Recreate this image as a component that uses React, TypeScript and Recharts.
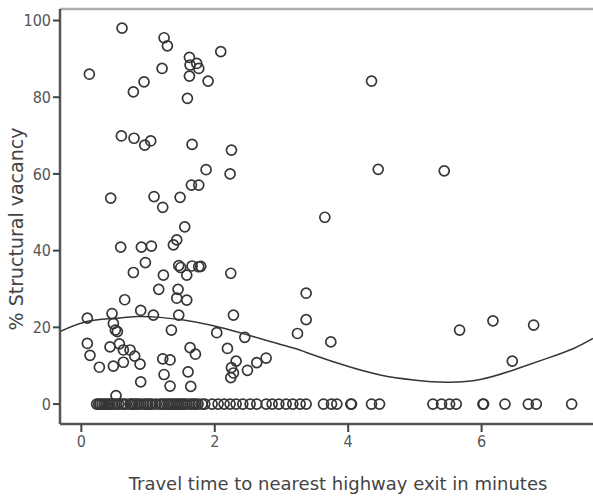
import { ComposedChart, Scatter, Line, XAxis, YAxis, Label } from "recharts"

const xTicks = [0, 2, 4, 6]
const yTicks = [0, 20, 40, 60, 80, 100]

// travel times of the tracts with no structural vacancy
const zeroTimes = [
  0.23, 0.26, 0.28, 0.31, 0.34, 0.37, 0.4, 0.43, 0.46, 0.5, 0.53, 0.56, 0.61, 0.64, 0.67,
  0.73, 0.75, 0.77, 0.8, 0.83, 0.86, 0.89, 0.94, 0.97, 1.0, 1.03,
  1.06, 1.12, 1.18, 1.21, 1.24, 1.28, 1.31, 1.34, 1.37, 1.4, 1.43, 1.46, 1.49, 1.52, 1.55,
  1.58, 1.63, 1.66, 1.69, 1.72, 1.75, 1.81, 1.85,
  1.96, 2.05, 2.14, 2.23, 2.32, 2.42, 2.53, 2.63,
  2.77, 2.86, 2.96, 3.07, 3.17, 3.28, 3.37,
  3.63, 3.75, 3.83, 4.04, 4.05, 4.35, 4.47, 5.27, 5.4, 5.52, 5.62, 6.02, 6.03, 6.35, 6.7,
  6.82, 7.35,
]

// [minutes, % vacancy]
const vacantTracts: [number, number][] = [
  [0.61, 98.0], [0.12, 86.0], [1.24, 95.5], [1.29, 93.4], [1.21, 87.5], [1.62, 90.4],
  [1.63, 88.4], [1.73, 88.8], [1.76, 87.5], [1.62, 85.5], [1.9, 84.2], [2.09, 91.9],
  [1.59, 79.7], [0.78, 81.4], [0.94, 84.0], [4.35, 84.2],
  [0.6, 69.9], [0.79, 69.3], [0.95, 67.5], [1.04, 68.6], [1.66, 67.7], [2.25, 66.2],
  [2.23, 60.0], [1.87, 61.1], [1.65, 57.1], [1.76, 57.1], [4.45, 61.2], [5.44, 60.8],
  [0.44, 53.7], [1.09, 54.1], [1.22, 51.3], [1.48, 53.9], [1.55, 46.2], [3.65, 48.7],
  [1.43, 42.8], [1.38, 41.5], [0.59, 40.9], [0.9, 40.9], [1.05, 41.2],
  [0.96, 36.9], [0.78, 34.3], [1.23, 33.6], [1.46, 36.1], [1.49, 35.6], [1.66, 36.0],
  [1.76, 35.8], [1.79, 35.9], [1.58, 33.6], [2.24, 34.1],
  [1.16, 29.9], [1.45, 29.9], [1.43, 27.6], [1.58, 27.1], [0.65, 27.2], [3.37, 28.9],
  [0.89, 24.4], [1.08, 23.2], [1.46, 23.2], [0.46, 23.6], [0.09, 22.4], [2.28, 23.2],
  [3.37, 22.0], [6.17, 21.7], [6.78, 20.6], [5.67, 19.3],
  [0.48, 21.0], [0.51, 19.3], [0.54, 18.9], [1.35, 19.3], [2.03, 18.6], [2.45, 17.4],
  [3.24, 18.4], [3.74, 16.2],
  [0.09, 15.8], [0.13, 12.7], [0.27, 9.6], [0.43, 14.9], [0.57, 15.7], [0.63, 14.1],
  [0.73, 14.1], [0.8, 12.5], [0.48, 9.9], [0.63, 10.9], [0.88, 10.4], [0.89, 5.8],
  [0.52, 2.2], [1.22, 11.8], [1.33, 11.5], [1.24, 7.7], [1.33, 4.7], [1.6, 8.4],
  [1.64, 4.6], [1.63, 14.7], [1.71, 13.0], [2.19, 14.5], [2.32, 11.2], [2.25, 9.5],
  [2.28, 8.1], [2.24, 6.9], [2.49, 8.8], [2.63, 10.8], [2.77, 12.0], [6.46, 11.2],
]

// cubic fit line
const fitLine: [number, number][] = [
  [-0.32, 18.9], [0.08, 21.5], [0.48, 22.3], [0.83, 22.8], [1.18, 22.6], [1.53, 21.9],
  [1.93, 20.6], [2.38, 18.6], [2.83, 16.3], [3.18, 14.6], [3.48, 12.8], [3.98, 9.9],
  [4.48, 7.6], [4.98, 6.3], [5.48, 5.7], [5.98, 6.4], [6.48, 8.9], [6.98, 11.9],
  [7.38, 14.5], [7.67, 17.1],
]

const points = [
  ...zeroTimes.map((x) => ({ x, y: 0 })),
  ...vacantTracts.map(([x, y]) => ({ x, y })),
]
const curve = fitLine.map(([x, fit]) => ({ x, fit }))

const font = "'DejaVu Sans', Verdana, sans-serif"
const tickFont = "'Liberation Sans Narrow', 'DejaVu Sans Condensed', sans-serif"
const tickStyle = { fill: "#555", fontSize: 16, fontFamily: tickFont }

const Ring = (props: any) => (
  <circle cx={props.cx} cy={props.cy} r={5} fill="none" stroke="#363636" strokeWidth={1.7} />
)

export default function App() {
  return (
    <div style={{ position: "absolute", left: 0, top: 0, background: "#fff" }}>
      <ComposedChart width={593} height={497} margin={{ top: 9, right: 0, bottom: 0, left: 0 }}>
        <XAxis
          type="number"
          dataKey="x"
          domain={[-0.32, 7.67]}
          allowDataOverflow
          ticks={xTicks}
          height={73}
          tickSize={8}
          tickMargin={4}
          tick={tickStyle}
          tickLine={{ stroke: "#444", strokeWidth: 2 }}
          axisLine={{ stroke: "#555", strokeWidth: 2.5 }}
        >
          <Label
            content={() => (
              <g>
                {/* light frame along the top of the plot */}
                <line x1={60} y1={9} x2={593} y2={9} stroke="#adadad" strokeWidth={2.5} />
                <text x={338} y={490} textAnchor="middle" fill="#444" fontSize={18} fontFamily={font}>
                  Travel time to nearest highway exit in minutes
                </text>
              </g>
            )}
          />
        </XAxis>
        <YAxis
          type="number"
          dataKey="y"
          domain={[-5.2, 103]}
          allowDataOverflow
          ticks={yTicks}
          width={60}
          tickSize={7}
          tickMargin={2}
          tick={tickStyle}
          tickLine={{ stroke: "#444", strokeWidth: 2 }}
          axisLine={{ stroke: "#555", strokeWidth: 2.5 }}
        >
          <Label
            content={() => (
              <text
                x={16}
                y={229}
                transform="rotate(-90 16 229)"
                textAnchor="middle"
                dominantBaseline="central"
                fill="#444"
                fontSize={19}
                fontFamily={font}
              >
                % Structural vacancy
              </text>
            )}
          />
        </YAxis>
        <Scatter data={points} dataKey="y" shape={Ring} isAnimationActive={false} />
        <Line
          data={curve}
          dataKey="fit"
          type="natural"
          dot={false}
          stroke="#363636"
          strokeWidth={1.5}
          isAnimationActive={false}
        />
      </ComposedChart>
    </div>
  )
}
